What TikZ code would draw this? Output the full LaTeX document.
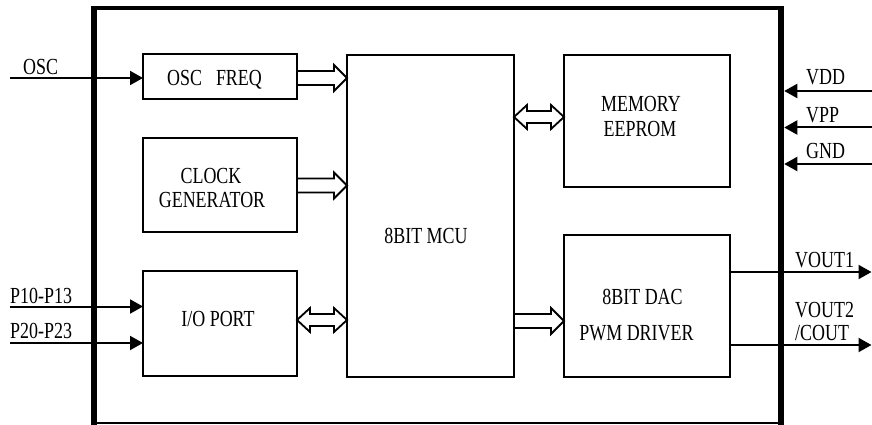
\documentclass[tikz,border=0pt]{standalone}
\usepackage{fontspec}
\setmainfont[FakeStretch=0.78]{Liberation Serif}
\usetikzlibrary{arrows.meta}
\tikzset{
  blk/.style={draw, line width=1.6pt, inner sep=0pt, outer sep=0pt},
  txt/.style={font=\fontsize{23}{25}\selectfont, inner sep=0pt, anchor=base},
  lbl/.style={txt, anchor=base west},
  sig/.style={line width=2pt, -{Triangle[length=13pt,width=14pt]}},
  hollow/.style={draw, line width=1.8pt, line join=miter},
  frameside/.style={line width=6.5pt},
}
% single hollow block arrow from x=#1 to x=#2 at y=#3 (pointing right)
\newcommand\hollowright[3]{\draw[hollow] (#1,#3-7) -- (#2-13,#3-7) -- (#2-13,#3-13) -- (#2,#3) -- (#2-13,#3+13) -- (#2-13,#3+7) -- (#1,#3+7);}
% double hollow block arrow between x=#1 and x=#2 at y=#3
\newcommand\hollowboth[3]{\draw[hollow] (#1+13,#3-6) -- (#2-13,#3-6) -- (#2-13,#3-12) -- (#2,#3) -- (#2-13,#3+12) -- (#2-13,#3+6) -- (#1+13,#3+6) -- (#1+13,#3+12) -- (#1,#3) -- (#1+13,#3-12) -- cycle;}
\begin{document}
\begin{tikzpicture}[x=1pt,y=-1pt]
\useasboundingbox (0,0) rectangle (872,425);
% outer frame
\draw[line width=3.5pt] (91,8) -- (784,8);
\draw[line width=2.5pt] (91,423) -- (784,423);
\draw[frameside] (94,6.25) -- (94,424.5);
\draw[frameside] (781,6.25) -- (781,424.5);
\coordinate (frR) at (784.25,0);

% blocks
\node[blk, minimum width=154pt, minimum height=45pt] (osc) at (220,76.5) {};
\node[blk, minimum width=154pt, minimum height=94pt] (clk) at (220,185) {};
\node[blk, minimum width=154pt, minimum height=105pt] (io) at (220,323.5) {};
\node[blk, minimum width=167pt, minimum height=322pt] (mcu) at (430.5,216) {};
\node[blk, minimum width=166pt, minimum height=132pt] (mem) at (647,121) {};
\node[blk, minimum width=166pt, minimum height=142pt] (dac) at (647,306) {};

% block texts
\node[txt] (toscf) at (214.5,86) {OSC\hspace{14pt}FREQ};
\node[txt] (tclk1) at (211,183) {CLOCK};
\node[txt] (tclk2) at (212,207) {GENERATOR};
\node[txt] (tio) at (218,326) {I/O PORT};
\node[txt] (tmcu) at (426,243) {8BIT MCU};
\node[txt] (tmem1) at (641,112) {MEMORY};
\node[txt] (tmem2) at (640,136) {EEPROM};
\node[txt] (tdac1) at (642.5,304) {8BIT DAC};
\node[txt] (tdac2) at (636.5,340) {PWM DRIVER};

% internal block arrows
\hollowright{297}{347}{78}
\hollowright{297}{347}{185.5}
\hollowboth{297}{347}{320}
\hollowboth{514}{564}{117}
\hollowright{514}{564}{321}

% external pins
\coordinate (oscin) at (10,78);
\coordinate (p1in) at (10,306.5);
\coordinate (p2in) at (10,343);
\coordinate (vddin) at (872,91);
\coordinate (vppin) at (872,127.5);
\coordinate (gndin) at (872,164);
\coordinate (vo1) at (871.5,272);
\coordinate (vo2) at (871.5,345);

\draw[sig] (oscin) -- (osc.west |- oscin);
\draw[sig] (p1in) -- (io.west |- p1in);
\draw[sig] (p2in) -- (io.west |- p2in);
\draw[sig] (vddin) -- (frR |- vddin);
\draw[sig] (vppin) -- (frR |- vppin);
\draw[sig] (gndin) -- (frR |- gndin);
\draw[sig] (dac.east |- vo1) -- (vo1);
\draw[sig] (dac.east |- vo2) -- (vo2);

% pin labels
\node[lbl] (losc) at (23,75) {OSC};
\node[lbl] (lp1) at (10,303) {P10-P13};
\node[lbl] (lp2) at (10,338) {P20-P23};
\node[lbl] (lvdd) at (806,85) {VDD};
\node[lbl] (lvpp) at (806,122) {VPP};
\node[lbl] (lgnd) at (806,158) {GND};
\node[lbl] (lvo1) at (795,267.5) {VOUT1};
\node[lbl] (lvo2) at (795,317) {VOUT2};
\node[lbl] (lcout) at (795,340.5) {/COUT};
\end{tikzpicture}
\end{document}
